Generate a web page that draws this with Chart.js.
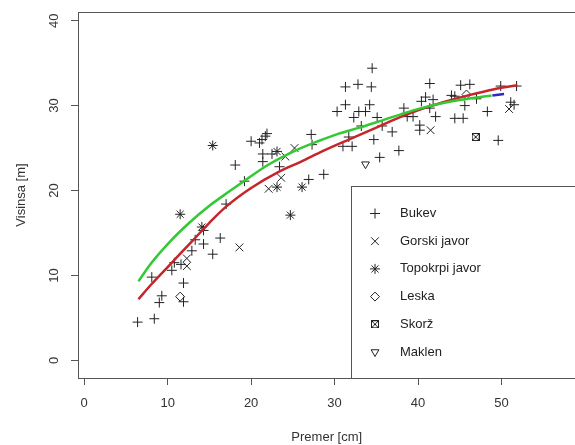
<!DOCTYPE html>
<html>
<head>
<meta charset="utf-8">
<script src="https://cdn.jsdelivr.net/npm/chart.js@4/dist/chart.umd.min.js"></script>
<style>
  html, body { margin: 0; padding: 0; overflow: hidden; background: #fff; width: 575px; height: 445px; }
  canvas { display: block; }
</style>
</head>
<body>
<canvas id="graf" width="582" height="445"></canvas>
<script>
const xTicks = [0, 10, 20, 30, 40, 50];
const yTicks = [0, 10, 20, 30, 40];

// drevesne vrste: [premer, visina]
const bukev = [
  [6.4,4.5],[8.4,4.9],[8.1,9.8],[9.0,6.8],[9.3,7.6],[11.9,6.9],[11.9,9.1],[10.5,10.6],
  [10.8,11.5],[11.6,11.3],[12.9,12.9],[13.3,14.2],[14.3,13.7],[14.3,15.3],[15.4,12.5],
  [16.3,14.4],[17.0,18.4],[18.1,23.0],[19.2,21.1],[20.0,25.8],[21.0,25.6],[21.3,26.0],
  [21.7,26.4],[21.9,26.7],[21.4,24.3],[21.4,23.4],[22.5,24.3],[23.4,22.8],[26.9,21.3],
  [28.7,21.9],[27.2,26.6],[27.3,25.4],[31.3,32.2],[32.8,32.5],[34.4,32.2],[34.5,34.4],
  [30.3,29.3],[31.3,30.1],[32.3,28.6],[32.9,29.3],[33.7,29.3],[34.2,30.1],[33.2,27.6],
  [31.0,25.2],[32.1,25.2],[31.7,26.3],[34.7,26.0],[35.1,28.6],[35.4,23.9],[35.7,27.6],
  [36.9,26.9],[37.7,24.7],[38.3,29.7],[38.7,28.7],[39.4,28.7],[40.4,30.5],[40.9,31.0],
  [41.8,30.7],[41.4,32.6],[41.4,29.7],[42.1,28.7],[40.2,27.7],[40.2,27.1],[44.0,31.2],
  [44.4,31.1],[45.1,32.4],[46.2,32.5],[45.6,30.0],[47.0,30.8],[44.4,28.5],[45.4,28.5],
  [48.3,29.3],[49.6,25.9],[49.9,32.3],[51.8,32.3],[51.1,30.4],[51.5,30.1]
];
const gorskiJavor = [
  [12.3,12.0],[12.3,11.1],[18.6,13.3],[22.1,20.2],[23.6,21.5],[24.1,24.0],[25.2,25.0],
  [41.5,27.1],[50.9,29.6]
];
const topokrpiJavor = [
  [11.5,17.2],[14.1,15.7],[15.4,25.3],[23.1,24.6],[23.1,20.4],[24.7,17.1],[26.1,20.4]
];
const leska = [[11.5,7.5],[45.8,31.3]];
const skorz = [[46.9,26.3]];
const maklen = [[33.7,23.1]];

// krivulje
const greenX = [6.5, 8, 10.2, 12.6, 15, 17.4, 19, 22, 25.3, 28, 30.5, 33, 35.2, 38, 40.4, 43, 46, 48.8];
const greenY = [9.3, 11.4, 13.9, 16.2, 18.2, 19.9, 21.0, 23.0, 24.7, 25.8, 26.7, 27.4, 28.1, 29.0, 29.7, 30.3, 30.8, 31.2];
const redX = [6.5, 8, 10.4, 13, 15, 17, 20, 23.3, 26, 28.5, 31.7, 35.2, 38, 40.4, 43, 46, 49, 51.9];
const redY = [7.2, 8.9, 11.4, 14.1, 16.2, 18.1, 20.3, 22.2, 23.4, 24.6, 26.0, 27.5, 28.7, 29.6, 30.4, 31.2, 31.9, 32.4];
const blueX = [48.9, 50.3];
const blueY = [31.2, 31.35];

const ink = '#222';
const axisCol = '#555';
const font = '"Liberation Sans", Arial, sans-serif';

function pts(arr) { return arr.map(p => ({ x: p[0], y: p[1] })); }
function curve(xs, ys) { return xs.map((x, i) => ({ x: x, y: ys[i] })); }

// kvadrat s križem (pch 7)
const boxCross = document.createElement('canvas');
boxCross.width = 8; boxCross.height = 8;
const bc = boxCross.getContext('2d');
bc.strokeStyle = ink; bc.lineWidth = 1;
bc.strokeRect(0.5, 0.5, 7, 7);
bc.beginPath();
bc.moveTo(1, 1); bc.lineTo(7, 7);
bc.moveTo(7, 1); bc.lineTo(1, 7);
bc.stroke();

function vrsta(label, data, style, radius, rotation) {
  return {
    label: label,
    data: pts(data),
    pointStyle: style,
    pointRadius: radius,
    pointHoverRadius: radius,
    rotation: rotation || 0,
    borderColor: ink,
    backgroundColor: 'rgba(0,0,0,0)',
    pointBorderWidth: 1,
    order: 2,
    legenda: true
  };
}

function crta(data, color) {
  return {
    label: '',
    data: data,
    showLine: true,
    pointRadius: 0,
    borderColor: color,
    borderWidth: 2.5,
    cubicInterpolationMode: 'monotone',
    order: 1,
    legenda: false
  };
}

const okvir = {
  id: 'okvir',
  afterDraw(chart) {
    const ctx = chart.ctx;
    const a = chart.chartArea;
    ctx.save();
    ctx.strokeStyle = axisCol;
    ctx.lineWidth = 1;
    ctx.strokeRect(a.left + 0.5, a.top + 0.5, a.right - a.left, a.bottom - a.top);

    // oznake na osi y (zasukane)
    const ys = chart.scales.y;
    ctx.fillStyle = '#333';
    ctx.font = '13px ' + font;
    ctx.textAlign = 'center';
    ctx.textBaseline = 'middle';
    ys.ticks.forEach(t => {
      ctx.save();
      ctx.translate(54, ys.getPixelForValue(t.value));
      ctx.rotate(-Math.PI / 2);
      ctx.fillText(String(t.value), 0, 0);
      ctx.restore();
    });

    // legenda
    const lx = 351, ly = 186;
    ctx.strokeStyle = axisCol;
    ctx.fillStyle = '#fff';
    ctx.fillRect(lx + 0.5, ly + 0.5, a.right - lx, a.bottom - ly);
    ctx.strokeRect(lx + 0.5, ly + 0.5, a.right - lx, a.bottom - ly);
    ctx.textAlign = 'left';
    let row = 0;
    chart.data.datasets.forEach(ds => {
      if (!ds.legenda) return;
      const y = 213.5 + row * 27.7;
      ctx.strokeStyle = ink;
      ctx.fillStyle = 'rgba(0,0,0,0)';
      ctx.lineWidth = 1;
      Chart.helpers.drawPoint(ctx, {
        pointStyle: ds.pointStyle, radius: ds.pointRadius, rotation: ds.rotation, borderWidth: 1
      }, 375, y);
      ctx.fillStyle = '#222';
      ctx.fillText(ds.label, 400, y);
      row++;
    });
    ctx.restore();
  }
};

new Chart(document.getElementById('graf'), {
  type: 'scatter',
  data: {
    datasets: [
      vrsta('Bukev', bukev, 'cross', 5),
      vrsta('Gorski javor', gorskiJavor, 'crossRot', 5.5),
      vrsta('Topokrpi javor', topokrpiJavor, 'star', 5),
      vrsta('Leska', leska, 'rectRot', 4.5),
      vrsta('Skorž', skorz, boxCross, 4),
      vrsta('Maklen', maklen, 'triangle', 4.5, 180),
      crta(curve(greenX, greenY), '#33c933'),
      crta(curve(redX, redY), '#c4262b'),
      crta(curve(blueX, blueY), '#2a2ac8')
    ]
  },
  options: {
    responsive: false,
    animation: false,
    events: [],
    layout: { padding: { top: 12, right: 4, bottom: 0, left: 0 } },
    plugins: { legend: { display: false }, tooltip: { enabled: false } },
    scales: {
      x: {
        type: 'linear',
        min: -0.74,
        max: 58.86,
        afterBuildTicks: s => { s.ticks = xTicks.map(v => ({ value: v })); },
        afterFit: s => { s.height = 67; },
        border: { display: false },
        grid: { drawOnChartArea: false, drawTicks: true, tickLength: 7, color: axisCol },
        ticks: { padding: 11, color: '#333', font: { family: font, size: 13 }, maxRotation: 0 },
        title: { display: true, text: 'Premer [cm]', color: '#333', font: { family: font, size: 13 }, padding: { top: 0, bottom: 0 } }
      },
      y: {
        type: 'linear',
        min: -2.08,
        max: 41.02,
        afterBuildTicks: s => { s.ticks = yTicks.map(v => ({ value: v })); },
        afterFit: s => { s.width = 78; },
        border: { display: false },
        grid: { drawOnChartArea: false, drawTicks: true, tickLength: 7, color: axisCol },
        ticks: { display: false },
        title: { display: true, text: 'Visinsa [m]', color: '#333', font: { family: font, size: 13 }, padding: { top: 14, bottom: 0 } }
      }
    }
  },
  plugins: [okvir]
});
</script>
</body>
</html>
